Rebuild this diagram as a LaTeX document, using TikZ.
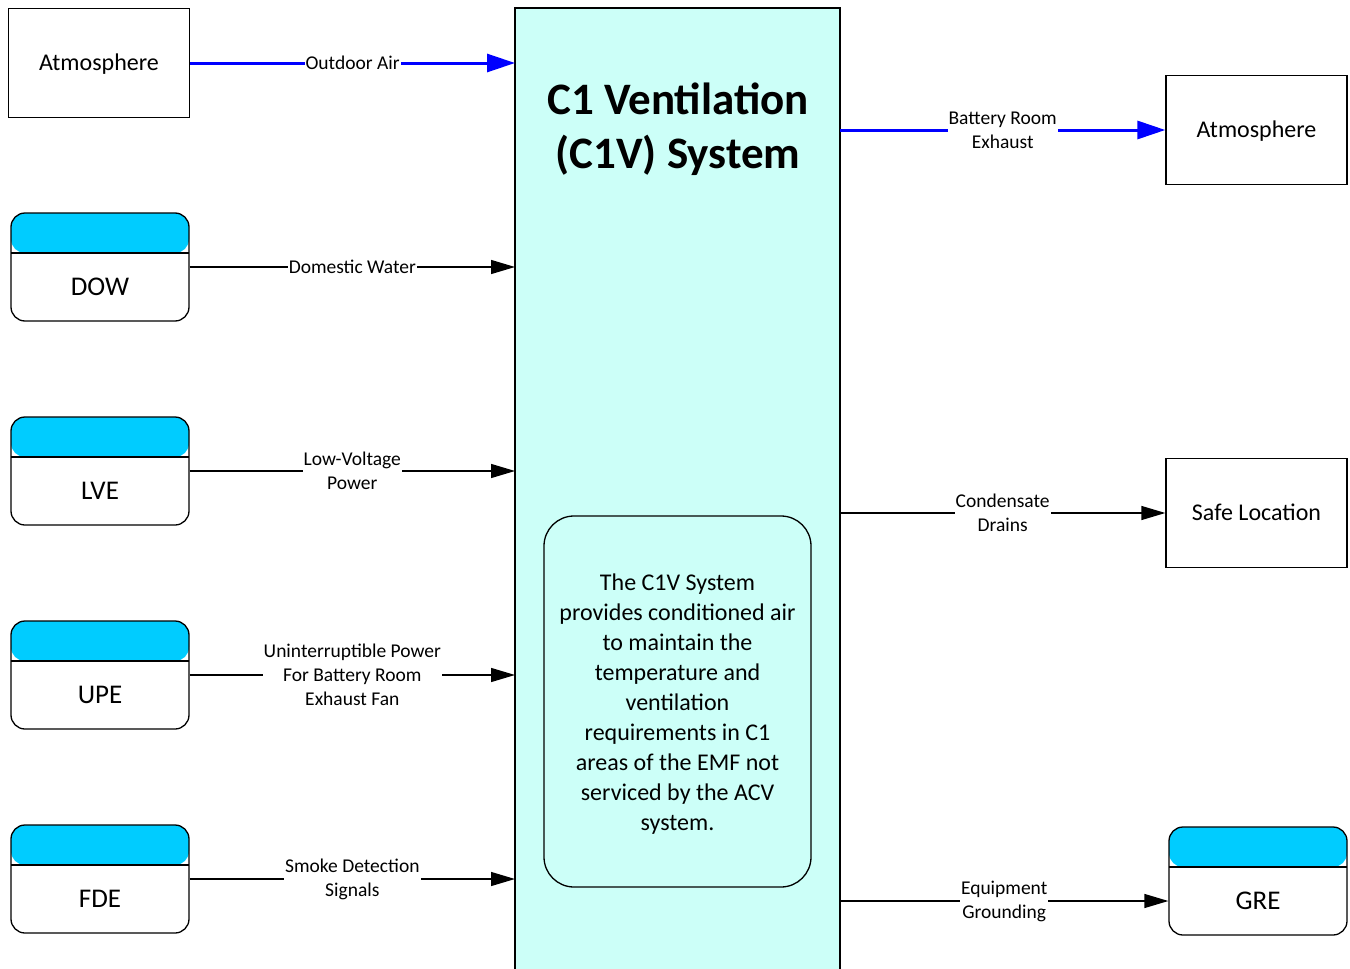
\documentclass[tikz,border=0pt]{standalone}
\usepackage{fontspec}
\setmainfont{Carlito}
\usetikzlibrary{arrows.meta}
\definecolor{hdrcyan}{RGB}{0,204,255}
\definecolor{mainfill}{RGB}{204,255,248}
\definecolor{flowblue}{RGB}{0,0,255}
\tikzset{
  plainbox/.style={draw, line width=1.3pt, minimum width=181pt, minimum height=109pt, inner sep=0pt, text depth=2pt, font=\fontsize{24}{28}\selectfont},
  hdrbox/.style={draw, line width=1.3pt, rounded corners=14pt, minimum width=178pt, minimum height=108pt, inner sep=0pt,
    path picture={\fill[hdrcyan] (path picture bounding box.north west) rectangle ([yshift=-40pt]path picture bounding box.east |- path picture bounding box.north);
      \draw[line width=1.3pt] ([yshift=-40pt]path picture bounding box.north west) -- ([yshift=-40pt]path picture bounding box.north east);}},
  hdrtext/.style={font=\fontsize{27}{30}\selectfont},
  flow/.style={line width=1.3pt, -{Triangle[length=24pt,width=14pt]}},
  blueflow/.style={line width=3pt, flowblue, -{Triangle[length=28pt,width=18pt]}},
  flowlabel/.style={fill=white, inner sep=1pt, align=center, text=black, font=\fontsize{19.5}{24}\selectfont}
}
\begin{document}
\begin{tikzpicture}[x=1pt,y=-1pt]
\useasboundingbox (0,0) rectangle (1350,969);
% main system box
\path[draw, fill=mainfill, line width=1.3pt] (515,8) rectangle (840,985);
\coordinate (mainW) at (515,500);
\coordinate (mainE) at (840,500);
\node[font=\bfseries\fontsize{45}{54}\selectfont, align=center] (title) at (678,129) {C1 Ventilation\\(C1V) System};
\node[draw, line width=1.3pt, rounded corners=30pt, minimum width=267pt, minimum height=371pt] (desc) at (677.5,701.5) {};
\node[align=center, font=\fontsize{24}{30}\selectfont] (desctext) at ([yshift=-3pt]desc.center)
  {The C1V System\\provides conditioned air\\to maintain the\\temperature and\\ventilation\\requirements in C1\\areas of the EMF not\\serviced by the ACV\\system.};
% left side
\node[plainbox] (atmL) at (99,63) {Atmosphere};
\node[hdrbox] (dow) at (100,267) {};
\node[hdrtext] at ([yshift=-20pt]dow.center) {DOW};
\node[hdrbox] (lve) at (100,471) {};
\node[hdrtext] at ([yshift=-20pt]lve.center) {LVE};
\node[hdrbox] (upe) at (100,675) {};
\node[hdrtext] at ([yshift=-20pt]upe.center) {UPE};
\node[hdrbox] (fde) at (100,879) {};
\node[hdrtext] at ([yshift=-20pt]fde.center) {FDE};
% right side
\node[plainbox] (atmR) at (1256.5,130) {Atmosphere};
\node[plainbox] (safe) at (1256.5,513) {Safe Location};
\node[hdrbox] (gre) at (1258,881) {};
\node[hdrtext] at ([yshift=-20pt]gre.center) {GRE};
\coordinate (greIn) at ([yshift=-20pt]gre.west);
% connectors
\draw[blueflow] (atmL.east) -- (atmL.east -| mainW) node[midway, flowlabel] {Outdoor Air};
\draw[flow] (dow.east) -- (dow.east -| mainW) node[midway, flowlabel] {Domestic Water};
\draw[flow] (lve.east) -- (lve.east -| mainW) node[midway, flowlabel] {Low-Voltage\\Power};
\draw[flow] (upe.east) -- (upe.east -| mainW) node[midway, flowlabel] {Uninterruptible Power\\For Battery Room\\Exhaust Fan};
\draw[flow] (fde.east) -- (fde.east -| mainW) node[midway, flowlabel] {Smoke Detection\\Signals};
\draw[blueflow] (atmR.west -| mainE) -- (atmR.west) node[midway, flowlabel] {Battery Room\\Exhaust};
\draw[flow] (safe.west -| mainE) -- (safe.west) node[midway, flowlabel] {Condensate\\Drains};
\draw[flow] (greIn -| mainE) -- (greIn) node[midway, flowlabel] {Equipment\\Grounding};
\end{tikzpicture}
\end{document}
